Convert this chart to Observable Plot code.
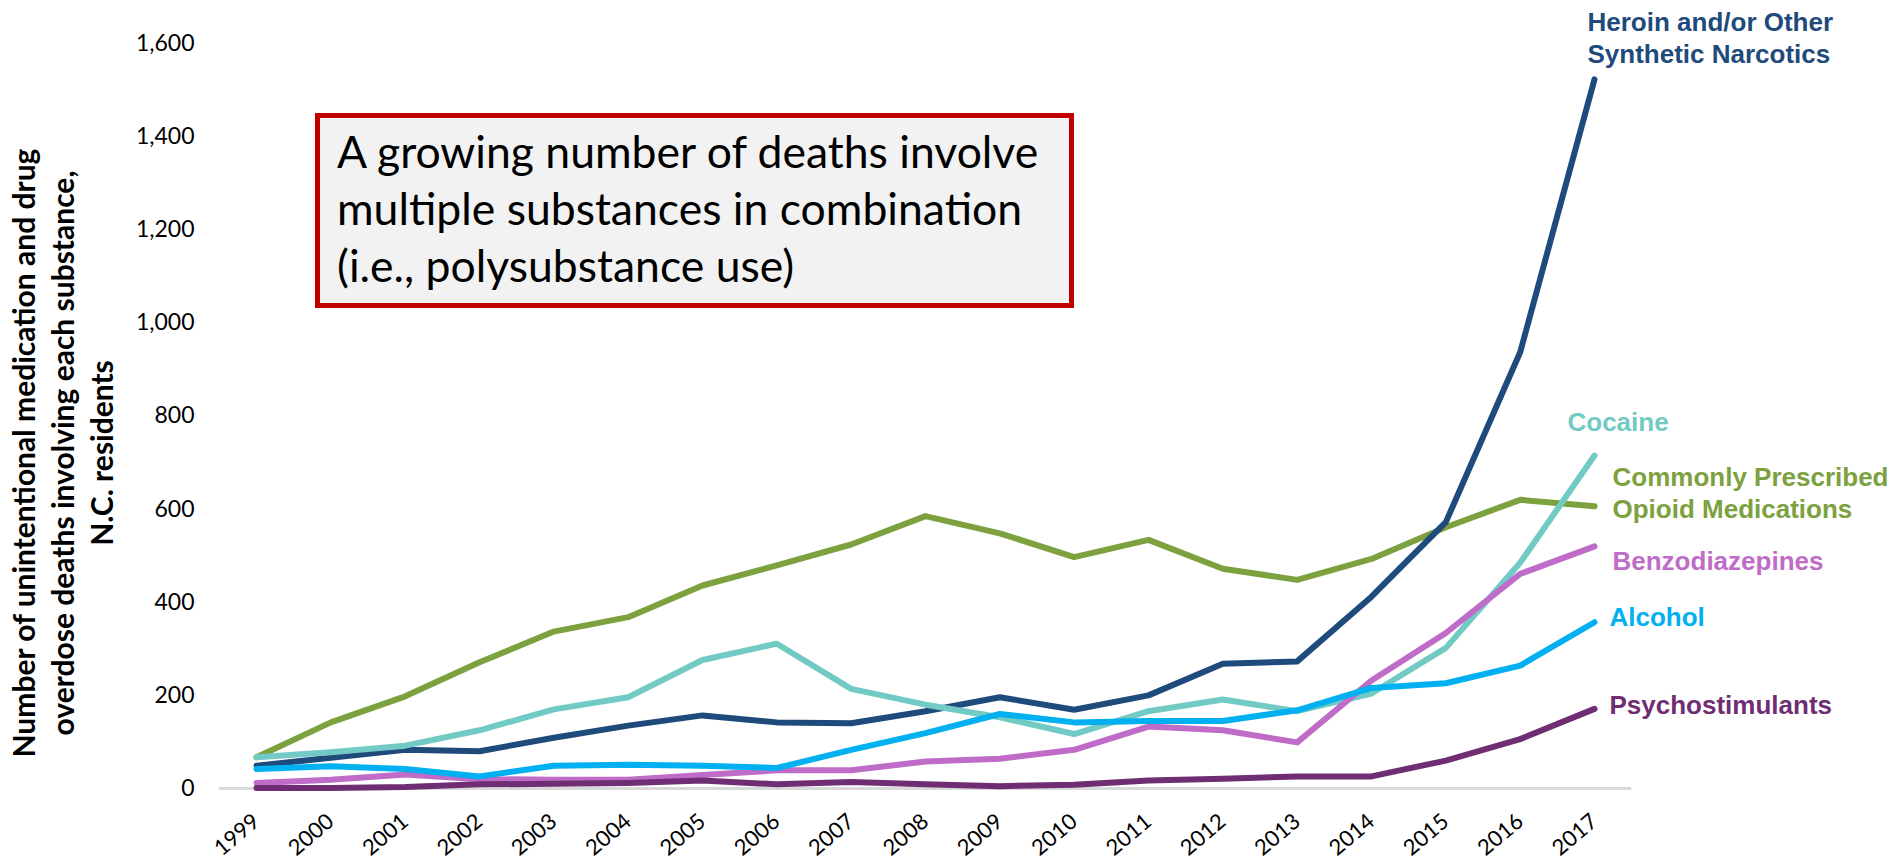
<!DOCTYPE html>
<html><head><meta charset="utf-8">
<script src="https://cdn.jsdelivr.net/npm/d3@7"></script>
<script src="https://cdn.jsdelivr.net/npm/@observablehq/plot@0.6"></script>
<style>
html,body{margin:0;padding:0;background:#fff;}
#wrap{position:relative;width:1897px;height:861px;overflow:hidden;background:#fff;}
#note{position:absolute;left:315px;top:113px;width:759px;height:195px;box-sizing:border-box;border:5px solid #c00000;background:#f2f2f2;font-family:Lato,"Open Sans",sans-serif;font-size:44.5px;line-height:57px;color:#000;padding:4px 0 0 17px;white-space:nowrap;}
</style></head><body>
<div id="wrap"><div id="chart"></div><div id="note">A growing number of deaths involve<br>multiple substances in combination<br>(i.e., polysubstance use)</div></div>
<script>
// ---- data ----
const years = [1999,2000,2001,2002,2003,2004,2005,2006,2007,2008,2009,2010,2011,2012,2013,2014,2015,2016,2017];
const prescribedOpioids = [67,142,198,271,337,368,436,479,524,585,548,497,534,472,448,493,561,620,606];
const heroin = [49,66,83,80,109,135,157,142,140,166,196,169,200,268,273,412,572,937,1523];
const cocaine = [67,78,92,125,170,196,276,311,214,180,153,117,166,191,166,204,302,485,715];
const benzodiazepines = [12,19,30,20,19,19,29,39,39,58,64,83,133,125,99,232,334,461,520];
const alcohol = [42,48,42,26,49,51,49,44,83,119,160,142,145,145,168,216,226,264,357];
const psychostimulants = [1,1,3,9,10,12,17,9,14,9,5,8,17,21,26,26,60,106,171];
const seriesNames = ["Commonly Prescribed\nOpioid Medications","Heroin and/or Other\nSynthetic Narcotics","Cocaine","Benzodiazepines","Alcohol","Psychostimulants"];
const seriesValues = [prescribedOpioids, heroin, cocaine, benzodiazepines, alcohol, psychostimulants];
const yTicks = [0,200,400,600,800,1000,1200,1400,1600];
const yTitle = "Number of unintentional medication and drug\noverdose deaths involving each substance,\nN.C. residents";

// ---- styles ----
const seriesStyle = [
  {color:"#7ca13e", dx:18, dy:-15},
  {color:"#1f4a7c", dx:-7, dy:-43},
  {color:"#72cac5", dx:-27, dy:-35},
  {color:"#bf6cc8", dx:18, dy:13},
  {color:"#00b0f0", dx:15, dy:-7},
  {color:"#6f2d74", dx:15, dy:-5}
];

const rows = seriesNames.flatMap((name, i) => years.map((year, j) => ({series: name, year, value: seriesValues[i][j]})));

const lineMarks = seriesNames.map((name, i) =>
  Plot.line(rows.filter(r => r.series === name), {x:"year", y:"value", stroke: seriesStyle[i].color, strokeWidth:6, strokeLinecap:"round", strokeLinejoin:"round"}));
const labelMarks = seriesNames.map((name, i) =>
  Plot.text(rows.filter(r => r.series === name && r.year === years[years.length-1]), {
    x:"year", y:"value", text:"series", dx: seriesStyle[i].dx, dy: seriesStyle[i].dy,
    textAnchor:"start", lineAnchor:"middle", fill: seriesStyle[i].color,
    fontFamily:"'Liberation Sans', Arial, sans-serif", fontWeight:"bold", fontSize:26, lineHeight:1.23}));

const chart = Plot.plot({
  width:1897, height:861,
  marginLeft:200, marginRight:0, marginTop:43, marginBottom:73,
  style:{fontFamily:"Lato, 'Open Sans', sans-serif", fontSize:"23px", color:"#000", background:"transparent", overflow:"visible"},
  x:{type:"linear", domain:[years[0], years[years.length-1]], range:[256,1594]},
  y:{domain:[yTicks[0], yTicks[yTicks.length-1]]},
  marks:[
    Plot.ruleY([0], {x1: years[0]-0.5, x2: years[years.length-1]+0.5, stroke:"#d9d9d9", strokeWidth:3}),
    Plot.axisY(yTicks, {tickSize:0, tickPadding:6, tickFormat:d3.format(","), fontSize:23, label:null}),
    Plot.axisX(years, {tickSize:0, tickPadding:30, tickRotate:-40, tickFormat:d => String(d), fontSize:22, label:null}),
    Plot.text([yTitle], {text:d => d, frameAnchor:"left", textAnchor:"middle", lineAnchor:"middle", rotate:-90, dx:-139, dy:37, fontWeight:"bold", fontSize:30, lineHeight:1.3, fill:"#000"}),
    ...lineMarks,
    ...labelMarks
  ]
});
document.getElementById("chart").appendChild(chart);
</script>
</body></html>
